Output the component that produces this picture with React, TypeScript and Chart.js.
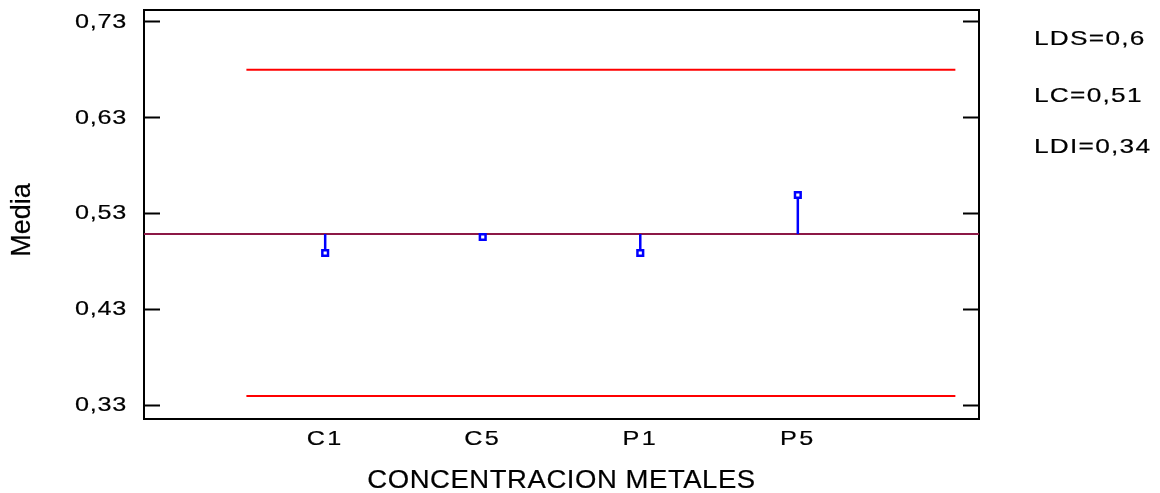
import React, { useEffect, useRef } from "react";
import { Chart, registerables } from "chart.js";

Chart.register(...registerables);

const categories = ["C1", "C5", "P1", "P5"];
const categoryPositions = [1, 2, 3, 4];
const means = [0.4887, 0.5055, 0.4887, 0.5493];
const centerLine = 0.5085;
const upperLimit = 0.68;
const lowerLimit = 0.3394;
const limitSpan = [0.5, 5.0];
const yTicks = [0.33, 0.43, 0.53, 0.63, 0.73];
const limitLabels = ["LDS=0,6", "LC=0,51", "LDI=0,34"];
const xRange = [-0.15, 5.15];
const yRange = [0.3154, 0.7425];

const FONT = "'Liberation Sans', Arial, sans-serif";
const STROKE = 0.2;

const fmt = (v: number) => v.toFixed(2).replace(".", ",");

function drawStretched(
  ctx: CanvasRenderingContext2D,
  text: string,
  x: number,
  y: number,
  sx: number,
  ls: number,
  align: CanvasTextAlign,
  baseline: CanvasTextBaseline,
  font: string,
  color = "#000"
) {
  ctx.save();
  ctx.translate(x, y);
  ctx.scale(sx, 1);
  (ctx as any).letterSpacing = `${ls}px`;
  ctx.font = font;
  ctx.fillStyle = color;
  ctx.strokeStyle = color;
  ctx.lineWidth = STROKE;
  ctx.textAlign = align;
  ctx.textBaseline = baseline;
  ctx.fillText(text, 0, 0);
  ctx.strokeText(text, 0, 0);
  ctx.restore();
}

function wrapLabels(scale: any, sx: number, ls: number) {
  scale.drawLabels = function (chartArea: any) {
    const ctx = this.ctx as CanvasRenderingContext2D;
    const items = this.getLabelItems(chartArea);
    for (const item of items) {
      const o = item.options;
      const [tx, ty] = o.translation;
      const label = Array.isArray(item.label) ? item.label.join(" ") : String(item.label);
      drawStretched(ctx, label, tx, ty + (item.textOffset || 0), sx, ls, o.textAlign, o.textBaseline, item.font.string, o.color);
    }
  };
}

export default function App() {
  const ref = useRef<HTMLCanvasElement>(null);

  useEffect(() => {
    if (!ref.current) return;

    const stems = means.map((m, i) => ({
      type: "line" as const,
      data: [
        { x: categoryPositions[i], y: centerLine },
        { x: categoryPositions[i], y: m },
      ],
      borderColor: "#0000FF",
      borderWidth: 2.5,
      pointRadius: 0,
    }));

    const textPlugin = {
      id: "stretchedText",
      beforeDraw(chart: any) {
        const xs = chart.scales.x;
        const ys = chart.scales.y;
        if (xs && !xs.__wrapped) {
          wrapLabels(xs, 1.2, 2);
          xs.drawTitle = function () {
            const t = this.options.title;
            drawStretched(this.ctx, t.text, (this.left + this.right) / 2, this.bottom - 12, 1.1, 0.5, "center", "middle", `25px ${FONT}`);
          };
          xs.__wrapped = true;
        }
        if (ys && !ys.__wrapped) {
          wrapLabels(ys, 1.2, 0.6);
          ys.drawTitle = function () {
            const t = this.options.title;
            const ctx = this.ctx as CanvasRenderingContext2D;
            ctx.save();
            ctx.translate(this.left + 22.5, (this.top + this.bottom) / 2 + 5.5);
            ctx.rotate(-Math.PI / 2);
            ctx.font = `27px ${FONT}`;
            ctx.fillStyle = "#000";
            ctx.strokeStyle = "#000";
            ctx.lineWidth = STROKE;
            ctx.textAlign = "center";
            ctx.textBaseline = "middle";
            ctx.fillText(t.text, 0, 0);
            ctx.strokeText(t.text, 0, 0);
            ctx.restore();
          };
          ys.__wrapped = true;
        }
      },
      afterDraw(chart: any) {
        const ctx = chart.ctx;
        const rows = [39, 96, 147];
        limitLabels.forEach((t, i) =>
          drawStretched(ctx, t, 1034, rows[i], 1.25, 1, "left", "middle", `21px ${FONT}`)
        );
      },
    };

    const chart = new Chart(ref.current, {
      type: "line",
      data: {
        datasets: [
          {
            type: "scatter",
            data: means.map((m, i) => ({ x: categoryPositions[i], y: m })),
            pointStyle: "rect",
            pointRadius: 4,
            borderWidth: 2.5,
            borderColor: "#0000FF",
            backgroundColor: "#FFFFFF",
          } as any,
          ...stems,
          {
            type: "line",
            data: [
              { x: xRange[0], y: centerLine },
              { x: xRange[1], y: centerLine },
            ],
            borderColor: "#8C1846",
            borderWidth: 2,
            pointRadius: 0,
          },
          {
            type: "line",
            data: [
              { x: limitSpan[0], y: upperLimit },
              { x: limitSpan[1], y: upperLimit },
            ],
            borderColor: "#FF0000",
            borderWidth: 2,
            pointRadius: 0,
          },
          {
            type: "line",
            data: [
              { x: limitSpan[0], y: lowerLimit },
              { x: limitSpan[1], y: lowerLimit },
            ],
            borderColor: "#FF0000",
            borderWidth: 2,
            pointRadius: 0,
          },
        ],
      },
      options: {
        responsive: false,
        animation: false,
        events: [],
        layout: { autoPadding: false, padding: { left: 0, top: 10, right: 181, bottom: 0 } },
        plugins: { legend: { display: false }, tooltip: { enabled: false } },
        scales: {
          x: {
            type: "linear",
            position: "bottom",
            min: xRange[0],
            max: xRange[1],
            offset: false,
            afterBuildTicks: (axis: any) => {
              axis.ticks = categoryPositions.map((v) => ({ value: v }));
            },
            afterFit: (axis: any) => {
              axis.height = 74;
              axis.paddingLeft = 0;
              axis.paddingRight = 0;
            },
            ticks: {
              callback: (v: any) => {
                const i = categoryPositions.indexOf(Number(v));
                return i >= 0 ? categories[i] : "";
              },
              autoSkip: false,
              maxRotation: 0,
              padding: 8,
              color: "#000",
              font: { family: FONT, size: 21 },
            },
            grid: { display: false, drawTicks: false },
            border: { display: true, color: "#000", width: 2 },
            title: {
              display: true,
              text: "CONCENTRACION METALES",
              color: "#000",
              font: { family: FONT, size: 25 },
              padding: { top: 0, bottom: 0 },
            },
          },
          x2: {
            type: "linear",
            position: "top",
            min: xRange[0],
            max: xRange[1],
            afterFit: (axis: any) => {
              axis.height = 0;
              axis.paddingLeft = 0;
              axis.paddingRight = 0;
            },
            ticks: { display: false },
            grid: { display: false },
            border: { display: true, color: "#000", width: 2 },
          },
          y: {
            type: "linear",
            position: "left",
            min: yRange[0],
            max: yRange[1],
            afterBuildTicks: (axis: any) => {
              axis.ticks = yTicks.map((v) => ({ value: v }));
            },
            afterFit: (axis: any) => {
              axis.width = 144;
              axis.paddingTop = 0;
              axis.paddingBottom = 0;
            },
            ticks: {
              callback: (v: any) => fmt(Number(v)),
              padding: 33,
              color: "#000",
              font: { family: FONT, size: 21 },
            },
            grid: {
              display: true,
              drawOnChartArea: false,
              drawTicks: true,
              tickLength: -16,
              color: "#000",
              tickColor: "#000",
              tickWidth: 2,
            },
            border: { display: true, color: "#000", width: 2 },
            title: {
              display: true,
              text: "Media",
              color: "#000",
              font: { family: FONT, size: 27 },
              padding: { top: 10, bottom: 0 },
            },
          },
          y2: {
            type: "linear",
            position: "right",
            min: yRange[0],
            max: yRange[1],
            afterBuildTicks: (axis: any) => {
              axis.ticks = yTicks.map((v) => ({ value: v }));
            },
            afterFit: (axis: any) => {
              axis.width = 0;
              axis.paddingTop = 0;
              axis.paddingBottom = 0;
            },
            ticks: { display: false },
            grid: {
              display: true,
              drawOnChartArea: false,
              drawTicks: true,
              tickLength: -16,
              color: "#000",
              tickColor: "#000",
              tickWidth: 2,
            },
            border: { display: true, color: "#000", width: 2 },
          },
        },
      } as any,
      plugins: [textPlugin],
    });

    return () => chart.destroy();
  }, []);

  return (
    <div style={{ position: "absolute", left: 0, top: 0, width: 1160, height: 493, background: "#fff" }}>
      <canvas ref={ref} width={1160} height={493} style={{ display: "block" }} />
    </div>
  );
}
